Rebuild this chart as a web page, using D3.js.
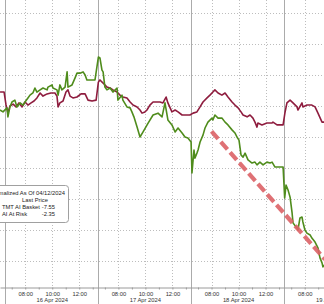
<!DOCTYPE html>
<html>
<head>
<meta charset="utf-8">
<script src="https://cdn.jsdelivr.net/npm/d3@7"></script>
<style>
  body { margin: 0; background: #fff; }
  svg { display: block; font-family: "Liberation Sans", Arial, sans-serif; }
</style>
</head>
<body>
<div id="chart"></div>
<script>
// session days shown on the axis
const days = ["16 Apr 2024", "17 Apr 2024", "18 Apr 2024", "19 Apr 2024"];
const hourLabels = ["08:00", "10:00", "12:00"];
const gridValues = [1, 0, -1, -2, -3, -4, -5, -6, -7];

// "DD HH:MM" (April), normalized value
const basketPoints = [
  ["15 13:02", -2.13], ["15 13:15", -2.19],
  ["16 06:39", -2.06], ["16 06:43", -2.35], ["16 06:52", -2.03], ["16 07:01", -1.87], ["16 07:14", -1.81],
  ["16 07:23", -2.03], ["16 07:37", -1.90], ["16 07:50", -1.97], ["16 07:59", -1.87], ["16 08:12", -1.74],
  ["16 08:21", -1.65], ["16 08:34", -1.58], ["16 08:43", -1.42], ["16 08:52", -1.55], ["16 09:06", -1.48],
  ["16 09:19", -1.42], ["16 09:37", -1.48], ["16 09:41", -1.39], ["16 09:59", -1.32], ["16 10:03", -1.42],
  ["16 10:21", -1.48], ["16 10:26", -1.65], ["16 10:34", -1.32], ["16 10:43", -1.48], ["16 10:57", -1.39],
  ["16 11:06", -0.90], ["16 11:10", -1.39], ["16 11:28", -1.32], ["16 11:41", -1.10], ["16 11:50", -0.94],
  ["16 12:03", -0.94], ["16 12:17", -0.90], ["16 12:26", -1.00], ["16 12:34", -1.16], ["16 13:10", -1.16],
  ["17 06:31", -0.42], ["17 06:38", -0.45], ["17 06:47", -0.84], ["17 06:52", -0.90], ["17 07:00", -1.39],
  ["17 07:09", -1.48], ["17 07:23", -1.42], ["17 07:36", -1.55], ["17 07:54", -1.42], ["17 07:58", -1.81],
  ["17 08:16", -1.65], ["17 08:20", -1.81], ["17 08:38", -2.03], ["17 08:52", -2.06], ["17 09:00", -2.19],
  ["17 09:09", -2.35], ["17 09:23", -2.68], ["17 09:36", -3.00], ["17 09:49", -2.84], ["17 10:12", -2.55],
  ["17 10:34", -2.29], ["17 10:56", -2.23], ["17 11:14", -2.35], ["17 11:27", -1.90], ["17 11:40", -2.45],
  ["17 11:58", -2.61], ["17 12:12", -2.84], ["17 12:25", -2.71], ["17 12:43", -2.87], ["17 12:56", -3.00],
  ["17 13:09", -3.03], ["17 13:23", -3.16],
  ["18 06:33", -4.16], ["18 06:42", -3.42], ["18 06:46", -3.68], ["18 06:55", -3.52], ["18 07:00", -3.42],
  ["18 07:09", -3.16], ["18 07:22", -2.94], ["18 07:31", -2.71], ["18 07:44", -2.52], ["18 08:02", -2.39],
  ["18 08:06", -2.45], ["18 08:15", -2.29], ["18 08:29", -2.39], ["18 08:46", -2.39], ["18 09:00", -2.52],
  ["18 09:13", -2.61], ["18 09:31", -2.77], ["18 09:44", -2.87], ["18 09:53", -3.00], ["18 10:02", -3.10],
  ["18 10:11", -3.58], ["18 10:20", -3.65], ["18 10:29", -3.52], ["18 10:42", -3.74], ["18 11:00", -3.84],
  ["18 11:13", -3.81], ["18 11:22", -3.90], ["18 11:35", -3.81], ["18 11:49", -3.90], ["18 12:06", -3.81],
  ["18 12:20", -3.84], ["18 12:29", -3.81], ["18 12:42", -3.97], ["18 13:18", -3.97],
  ["19 06:31", -4.97], ["19 06:37", -4.55], ["19 06:46", -4.71], ["19 06:55", -4.94], ["19 07:04", -5.45],
  ["19 07:08", -5.77], ["19 07:26", -5.94], ["19 07:30", -6.00], ["19 07:39", -5.61], ["19 07:48", -5.58],
  ["19 07:52", -5.74], ["19 08:01", -6.00], ["19 08:10", -6.10], ["19 08:24", -6.16], ["19 08:32", -6.26],
  ["19 08:46", -6.39], ["19 08:59", -6.58], ["19 09:08", -6.90], ["19 09:17", -7.06], ["19 09:21", -7.19],
  ["19 09:26", -7.13]
];

const riskPoints = [
  ["15 13:02", -1.55], ["15 13:20", -1.55],
  ["16 06:34", -1.94], ["16 06:43", -2.23], ["16 06:52", -2.00], ["16 07:06", -1.94], ["16 07:19", -2.03],
  ["16 07:32", -1.90], ["16 07:46", -2.03], ["16 07:59", -1.87], ["16 08:12", -1.97], ["16 08:26", -1.90],
  ["16 08:39", -1.84], ["16 08:52", -1.74], ["16 09:06", -1.58], ["16 09:19", -1.68], ["16 09:37", -1.61],
  ["16 09:54", -1.58], ["16 10:12", -1.58], ["16 10:21", -1.68], ["16 10:26", -2.03], ["16 10:34", -1.90],
  ["16 10:48", -1.84], ["16 11:01", -1.55], ["16 11:10", -1.48], ["16 11:19", -1.68], ["16 11:32", -1.74],
  ["16 11:50", -1.71], ["16 12:08", -1.61], ["16 12:26", -1.61], ["16 12:39", -1.81], ["16 12:57", -1.84],
  ["16 13:15", -1.81],
  ["17 06:31", -1.23], ["17 06:38", -1.16], ["17 06:52", -1.26], ["17 07:09", -1.39], ["17 07:23", -1.42],
  ["17 07:36", -1.48], ["17 07:54", -1.55], ["17 08:07", -1.65], ["17 08:20", -1.71], ["17 08:38", -1.74],
  ["17 08:52", -1.87], ["17 09:05", -1.97], ["17 09:23", -2.03], ["17 09:36", -2.13], ["17 09:45", -2.23],
  ["17 09:58", -2.19], ["17 10:07", -2.13], ["17 10:20", -1.97], ["17 10:34", -1.87], ["17 10:52", -1.87],
  ["17 11:05", -1.87], ["17 11:18", -1.90], ["17 11:32", -1.71], ["17 11:40", -1.90], ["17 11:58", -2.19],
  ["17 12:12", -2.13], ["17 12:25", -2.19], ["17 12:43", -2.29], ["17 13:00", -2.29], ["17 13:18", -2.29],
  ["18 06:38", -2.23], ["18 06:55", -2.19], ["18 07:09", -2.03], ["18 07:22", -1.87], ["18 07:40", -1.74],
  ["18 07:53", -1.65], ["18 08:06", -1.55], ["18 08:15", -1.48], ["18 08:29", -1.58], ["18 08:46", -1.65],
  ["18 09:00", -1.58], ["18 09:13", -1.71], ["18 09:31", -1.87], ["18 09:44", -1.97], ["18 09:58", -2.06],
  ["18 10:11", -2.19], ["18 10:20", -2.29], ["18 10:38", -2.35], ["18 10:51", -2.29], ["18 11:04", -2.39],
  ["18 11:13", -2.52], ["18 11:22", -2.68], ["18 11:26", -2.55], ["18 11:44", -2.61], ["18 12:06", -2.55],
  ["18 12:29", -2.55], ["18 12:33", -2.52], ["18 12:51", -2.61], ["18 13:18", -2.61],
  ["19 06:32", -2.23], ["19 06:41", -1.90], ["19 06:55", -1.81], ["19 07:08", -1.90], ["19 07:26", -2.03],
  ["19 07:30", -2.13], ["19 07:48", -1.90], ["19 07:52", -2.03], ["19 08:10", -1.97], ["19 08:32", -1.97],
  ["19 08:46", -2.03], ["19 08:59", -2.23], ["19 09:17", -2.52], ["19 09:26", -2.52]
];

// hand-drawn trend annotation
const trendPoints = [["18 08:00", -2.82], ["19 09:30", -6.95]];

const legendTitle = "Normalized As Of 04/12/2024";
const legendHeader = "Last Price";
const legendNames = ["TMT AI Basket", "AI At Risk"];
const legendLast = ["-7.55", "-2.35"];

const W = 324, H = 304;
const axisY = 287;
const sessionOpen = 6.5, sessionLen = 6.9; // hours shown per day (06:30 ->)

// trading-time offset in hours, overnight gaps removed
function offset(s) {
  const day = +s.slice(0, 2) - 16;
  const h = +s.slice(3, 5) + (+s.slice(6, 8)) / 60;
  return day * sessionLen + h - sessionOpen;
}

const svg = d3.select("#chart").append("svg")
    .attr("width", W)
    .attr("height", H);

const x = d3.scaleLinear().domain([-0.37, 23.63]).range([0, W]);
const y = d3.scaleLinear().domain([0, -7]).range([44, 261]);

// horizontal dotted grid
svg.append("g").selectAll("line")
  .data(gridValues)
  .join("line")
    .attr("x1", 0).attr("x2", W)
    .attr("y1", d => Math.round(y(d)) + 0.5)
    .attr("y2", d => Math.round(y(d)) + 0.5)
    .attr("stroke", "#bdbdbd")
    .attr("stroke-dasharray", "1,2");

// vertical dotted grid at labelled hours
const hourGrid = [];
days.forEach((d, i) => hourLabels.forEach(l => hourGrid.push(offset(`${16 + i} ${l}`))));
svg.append("g").selectAll("line")
  .data(hourGrid.filter(v => x(v) < W))
  .join("line")
    .attr("x1", d => Math.round(x(d)) + 0.5)
    .attr("x2", d => Math.round(x(d)) + 0.5)
    .attr("y1", 0).attr("y2", axisY)
    .attr("stroke", "#bdbdbd")
    .attr("stroke-dasharray", "1,2");

// day separators
svg.append("g").selectAll("line")
  .data(days.map((d, i) => i * sessionLen))
  .join("line")
    .attr("x1", d => Math.round(x(d)) + 0.5)
    .attr("x2", d => Math.round(x(d)) + 0.5)
    .attr("y1", 0).attr("y2", H)
    .attr("stroke", "#ababab");

// bottom axis, a tick every hour, labels on even hours
const hourTicks = [];
days.forEach((d, i) => { for (let h = 7; h <= 13; h++) hourTicks.push(i * sessionLen + h - sessionOpen); });
const axis = d3.axisBottom(x)
    .tickValues(hourTicks.filter(v => x(v) < W))
    .tickSize(2)
    .tickSizeOuter(0)
    .tickFormat(v => {
      if (x(v) + 8 > W) return "";   // label would fall off the picture
      const day = Math.floor(v / sessionLen);
      const h = Math.round(v - day * sessionLen + sessionOpen);
      const label = String(h).padStart(2, "0") + ":00";
      return hourLabels.includes(label) ? label : "";
    });

const gx = svg.append("g")
    .attr("transform", `translate(0,${axisY + 0.5})`)
    .call(axis);
gx.select(".domain").attr("stroke", "#9a9a9a");
gx.selectAll(".tick line").attr("stroke", "#9a9a9a");
gx.selectAll(".tick text")
    .attr("y", 4)
    .attr("fill", "#333")
    .style("font-family", "Liberation Sans, Arial, sans-serif")
    .style("font-size", "5.8px");

svg.append("g").selectAll("text")
  .data(days)
  .join("text")
    .attr("x", (d, i) => x(offset(`${16 + i} 10:00`)))
    .attr("y", 302)
    .attr("text-anchor", "middle")
    .attr("fill", "#333")
    .style("font-size", "5.8px")
    .text(d => d);

// series
const line = d3.line()
    .x(d => x(offset(d[0])))
    .y(d => y(d[1]));

svg.append("path")
    .datum(riskPoints)
    .attr("fill", "none")
    .attr("stroke", "#8e1c3e")
    .attr("stroke-width", 1.6)
    .attr("stroke-linejoin", "round")
    .attr("d", line);

svg.append("path")
    .datum(basketPoints)
    .attr("fill", "none")
    .attr("stroke", "#4f8c1c")
    .attr("stroke-width", 1.6)
    .attr("stroke-linejoin", "round")
    .attr("d", line);

svg.append("path")
    .datum(trendPoints)
    .attr("fill", "none")
    .attr("stroke", "#dc6266")
    .attr("stroke-opacity", 0.9)
    .attr("stroke-width", 4.2)
    .attr("stroke-dasharray", "10,4")
    .attr("d", line);

// legend box (left part falls outside the picture)
const lg = svg.append("g");
lg.append("rect")
    .attr("x", -45.5).attr("y", 185.5)
    .attr("width", 114).attr("height", 37)
    .attr("rx", 3)
    .attr("fill", "#fff")
    .attr("stroke", "#a0a0a0");

lg.append("text")
    .attr("x", 65).attr("y", 195)
    .attr("text-anchor", "end")
    .attr("fill", "#222")
    .style("font-size", "5.8px")
    .text(legendTitle);
lg.append("text")
    .attr("x", 35).attr("y", 202)
    .attr("text-anchor", "middle")
    .attr("fill", "#222")
    .style("font-size", "5.8px")
    .text(legendHeader);
legendNames.forEach((n, i) => {
  lg.append("text")
      .attr("x", 2).attr("y", 209 + i * 7)
      .attr("fill", "#222")
      .style("font-size", "5.8px")
      .text(n);
  lg.append("text")
      .attr("x", 55).attr("y", 209 + i * 7)
      .attr("text-anchor", "end")
      .attr("fill", "#222")
      .style("font-size", "5.8px")
      .text(legendLast[i]);
});
</script>
</body>
</html>
